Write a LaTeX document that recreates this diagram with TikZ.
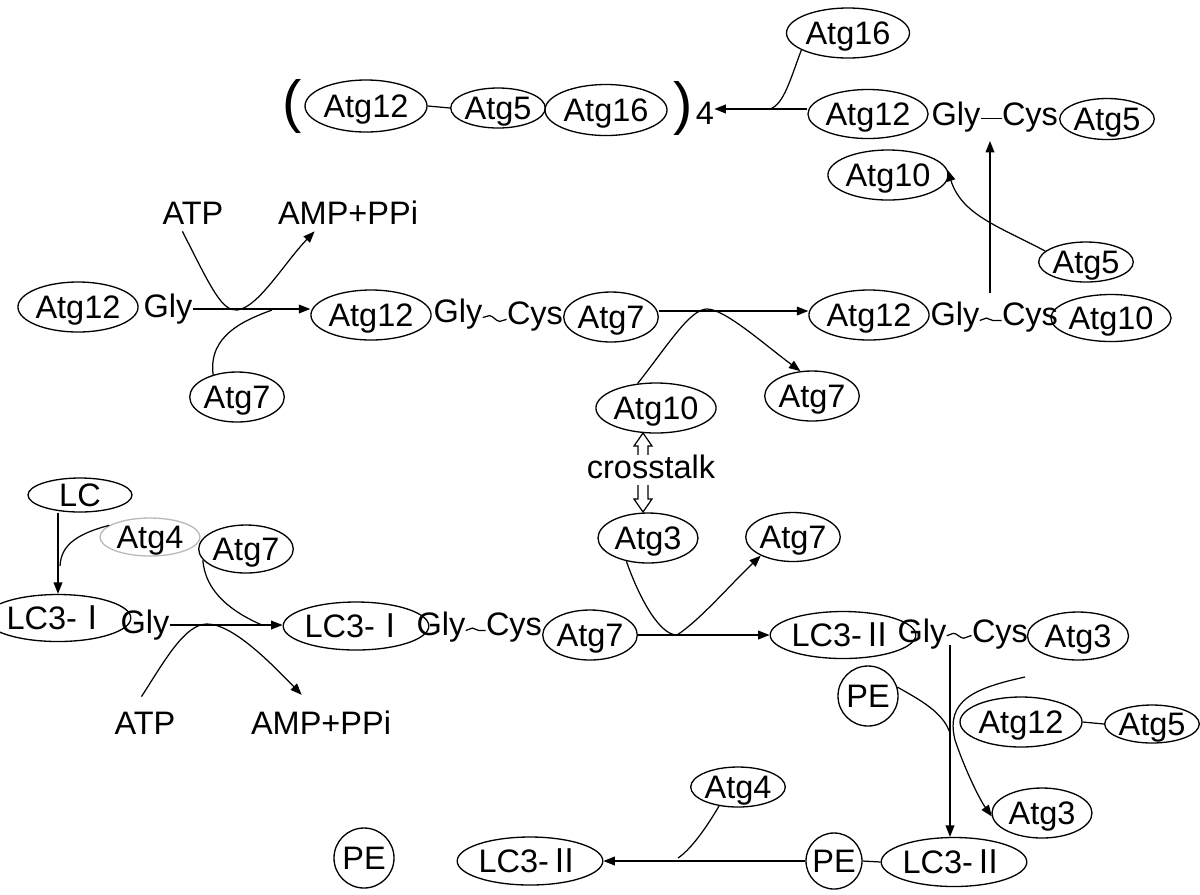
\documentclass[tikz,border=0pt]{standalone}
\usepackage{fontspec}
\setmainfont{Liberation Sans}
\newfontfamily\cjk{Noto Sans CJK SC}
\usetikzlibrary{shapes.geometric,arrows.meta,decorations.pathmorphing,calc}
\begin{document}
\begin{tikzpicture}[x=0.02cm,y=-0.02cm,
  every node/.style={font=\fontsize{18.5}{22}\selectfont},
  txt/.style={inner sep=0pt,text height=13.2pt,text depth=3.9pt},
  el/.style 2 args={ellipse,draw,line width=0.75pt,inner sep=0pt,minimum width=#1*0.02cm,minimum height=#2*0.02cm,text height=13.2pt,text depth=0pt},
  ci/.style={circle,draw,line width=0.75pt,inner sep=0pt,minimum size=#1*0.02cm,text height=13.2pt,text depth=0pt},
  par/.style={inner sep=0pt,font=\fontsize{33}{38}\selectfont},
  ln/.style={line width=0.7pt},
  arr/.style={ln,-{Triangle[length=6.5pt,width=5pt]}},
  wave/.style={ln,decorate,decoration={snake,amplitude=1.4pt,segment length=12pt}},
]
\useasboundingbox (0,0) rectangle (1200,894);
% ---------- top complex ----------
\node[par] (lp) at (292,106) {(};
\node[el={122}{52}] (a12p) at (366,106) {Atg12};
\node[el={89}{40}] (a5p) at (498,108) {Atg5};
\node[el={122}{51}] (a16p) at (606,110) {Atg16};
\node[par] (rp) at (683,108) {)};
\node[txt] (four) at (705,116) {4};
\draw[ln] (a12p.east) -- (a5p.west);
% ---------- top right ----------
\node[el={123}{50}] (a16t) at (848,33) {Atg16};
\node[el={119}{49}] (a12t) at (868,114) {Atg12};
\node[txt] (glyt) at (956,117) {Gly};
\node[txt] (cyst) at (1030,117) {Cys};
\node[el={90}{41}] (a5t) at (1107,119) {Atg5};
\node[el={100}{50}] (a10t) at (888,175) {Atg10};
\node[el={92}{40}] (a5b) at (1086,262) {Atg5};
\draw[ln] ([yshift=-0.8pt]glyt.east) -- ([yshift=-0.8pt]cyst.west);
\coordinate (j16) at (770,109);
\draw[arr] (a12t.west |- j16) -- (four.east |- j16);
\draw[ln] (a16t.200) .. controls (790,80) and (784,104) .. (j16);
\coordinate (v3) at (990,293);
\coordinate (v3t) at (990,141);
\draw[arr] (v3) -- (v3t);
\draw[arr] (a5b.165) .. controls (998,226) and (962,215) .. (a10t.5);
% ---------- middle row ----------
\node[el={120}{50}] (a12a) at (78,307) {Atg12};
\node[txt] (gly1) at (168,309) {Gly};
\node[txt] (atp1) at (193,216) {ATP};
\node[txt] (amp1) at (348,216) {AMP+PPi};
\node[el={90}{50}] (a7a) at (237,397) {Atg7};
\node[el={118}{50}] (a12m) at (371,315) {Atg12};
\node[txt] (gly2) at (458,314) {Gly};
\node[txt] (cys2) at (535,316) {Cys};
\node[el={92}{50}] (a7m) at (611,317) {Atg7};
\node[el={102}{50}] (a10m) at (656,408) {Atg10};
\node[el={92}{50}] (a7r) at (812,396) {Atg7};
\node[el={118}{50}] (a12r) at (869,315) {Atg12};
\node[txt] (gly3) at (955,317) {Gly};
\node[txt] (cys3) at (1030,317) {Cys};
\node[el={102}{47}] (a10r) at (1111,318) {Atg10};
\draw[arr] (gly1.east) -- (gly1.east -| a12m.west);
\draw[arr] ([xshift=-6pt]atp1.south) .. controls (212,290) and (222,311) .. (237,310)
  .. controls (258,308) and (285,262) .. ([xshift=-19pt]amp1.south);
\coordinate (k7) at (272,310);
\draw[ln] (a7a.137) .. controls (208,335) and (245,320) .. (k7);
\draw[wave] ([yshift=-2pt]gly2.east) -- ([yshift=-2pt]cys2.west);
\coordinate (m1) at (657,311);
\draw[arr] (a7m.east |- m1) -- (a12r.west |- m1);
\draw[arr] (a10m.127) .. controls (668,345) and (690,309) .. (707,309)
  .. controls (725,309) and (765,345) .. (a7r.115);
\draw[wave] ([yshift=-2pt]gly3.east) -- ([yshift=-2pt]cys3.west);
% ---------- crosstalk ----------
\coordinate (xc) at (643,472.5);
\draw[ln,fill=white] ($(xc)+(0,-39.5)$) -- ++(9,13) -- ++(-4,0) -- ++(0,53) -- ++(4,0)
  -- ($(xc)+(0,39.5)$) -- ++(-9,-13) -- ++(4,0) -- ++(0,-53) -- ++(-4,0) -- cycle;
\node[txt,fill=white] (xt) at (651,470) {crosstalk};
\node[el={100}{50}] (a3) at (648,538) {Atg3};
% ---------- lower left ----------
\node[el={104}{34}] (lc) at (80,495) {LC};
\node[el={100}{38},draw=gray!55] (a4a) at (150,537) {Atg4};
\node[el={92}{48}] (a7b) at (246,549) {Atg7};
\node[el={108}{47}] (lc3a) at (58,618) {LC3-{\cjk Ⅰ}};
\node[txt] (gly4) at (145,625) {Gly};
\node[txt] (atp2) at (145,726) {ATP};
\node[txt] (amp2) at (321,726) {AMP+PPi};
\node[el={108}{48}] (lc3b) at (356,626) {LC3-{\cjk Ⅰ}};
\node[txt] (gly5) at (441,627) {Gly};
\node[txt] (cys5) at (514,627) {Cys};
\node[el={90}{50}] (a7c) at (590,635) {Atg7};
\node[el={91}{49}] (a7u) at (793,537) {Atg7};
% ---------- lower right ----------
\node[el={110}{47}] (lc3c) at (843,635) {LC3-{\cjk Ⅱ}};
\node[txt] (gly6) at (922,634) {Gly};
\node[txt] (cys6) at (1000,634) {Cys};
\node[el={101}{48}] (a3r) at (1078,636) {Atg3};
\node[ci=60] (pe1) at (868,696) {PE};
\node[el={122}{50}] (a12l) at (1021,722) {Atg12};
\node[el={89}{38}] (a5l) at (1152,724) {Atg5};
\node[el={100}{50}] (a3b) at (1042,813) {Atg3};
\node[el={112}{49}] (lc3d) at (954,862) {LC3-{\cjk Ⅱ}};
\node[ci=56] (pe2) at (834,861) {PE};
\node[el={114}{48}] (lc3e) at (530,861) {LC3-{\cjk Ⅱ}};
\node[el={84}{40}] (a4b) at (738,787) {Atg4};
\node[ci=60] (pe3) at (364,858) {PE};
% ---------- lower connectors ----------
\draw[arr] (lc3a.north |- lc.south) -- (lc3a.north);
\coordinate (k4) at (60,566);
\draw[ln] (a4a.164) .. controls (72,535) and (61,548) .. (k4);
\coordinate (k7b) at (262,625);
\draw[ln] (a7b.194) .. controls (205,592) and (232,612) .. (k7b);
\draw[arr] (gly4.east) -- (gly4.east -| lc3b.west);
\draw[arr] ([xshift=-2pt,yshift=8pt]atp2.north) .. controls (165,660) and (185,624) .. (207,624)
  .. controls (232,624) and (268,660) .. ([xshift=-11pt,yshift=9pt]amp2.north);
\draw[wave] ([yshift=-2pt]gly5.east) -- ([yshift=-2pt]cys5.west);
\draw[arr] (a7c.east) -- (a7c.east -| lc3c.west);
\draw[arr] (a3.227) .. controls (640,600) and (660,635) .. (677,635)
  .. controls (700,620) and (730,585) .. (a7u.210);
\draw[wave] ([yshift=-1pt]gly6.east) -- ([yshift=-1pt]cys6.west);
\coordinate (v6) at (950,645);
\draw[arr] (v6) -- (v6 |- lc3d.north);
\coordinate (jpe) at (950,733);
\draw[ln] (pe1.17) .. controls (920,700) and (943,712) .. (jpe);
\coordinate (k12) at (1025,677);
\draw[arr] (k12) .. controls (975,688) and (945,700) .. (955,740)
  .. controls (965,770) and (980,800) .. (a3b.184);
\draw[ln] (a12l.east) -- (a5l.west);
\draw[ln] (pe2.east) -- (lc3d.west);
\draw[arr] (pe2.west) -- (pe2.west -| lc3e.east);
\coordinate (k4b) at (678,858);
\draw[ln] (a4b.225) .. controls (705,830) and (690,850) .. (k4b);
\end{tikzpicture}
\end{document}
